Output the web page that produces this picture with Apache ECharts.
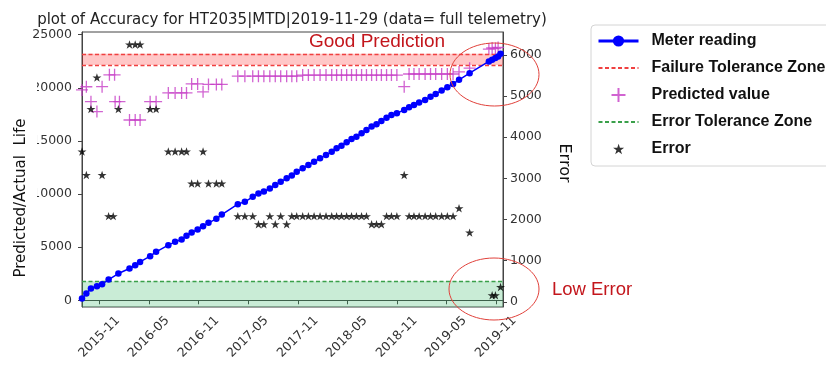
<!DOCTYPE html>
<html>
<head>
<meta charset="utf-8">
<title>plot of Accuracy</title>
<script src="https://cdn.jsdelivr.net/npm/echarts@6.0.0/dist/echarts.min.js"></script>
<style>
  html, body { margin: 0; padding: 0; background: #fff; }
  #chart { width: 826px; height: 367px; }
</style>
</head>
<body>
<div id="chart"></div>
<script>
// meter reading (left axis)
var meterReading = [
  ['2015-08-29', 160], ['2015-09-14', 630], ['2015-10-01', 1100], ['2015-10-23', 1320],
  ['2015-11-11', 1510], ['2015-12-05', 1950], ['2016-01-10', 2520], ['2016-02-20', 2990],
  ['2016-03-12', 3300], ['2016-03-30', 3610], ['2016-05-06', 4150], ['2016-05-28', 4560],
  ['2016-07-12', 5190], ['2016-08-06', 5500], ['2016-08-30', 5720], ['2016-09-17', 6080],
  ['2016-10-06', 6370], ['2016-10-28', 6670], ['2016-11-17', 6980], ['2016-12-07', 7290],
  ['2017-01-05', 7670], ['2017-01-25', 8070], ['2017-03-25', 9050], ['2017-04-20', 9270],
  ['2017-05-19', 9740], ['2017-06-09', 10060], ['2017-06-29', 10250], ['2017-07-21', 10530],
  ['2017-08-10', 10850], ['2017-08-30', 11160], ['2017-09-21', 11480], ['2017-10-10', 11740],
  ['2017-10-28', 12100], ['2017-11-19', 12420], ['2017-12-10', 12730], ['2017-12-31', 13040],
  ['2018-01-22', 13360], ['2018-02-13', 13670], ['2018-03-06', 13990], ['2018-03-24', 14310],
  ['2018-04-11', 14550], ['2018-04-30', 14870], ['2018-05-18', 15180], ['2018-06-05', 15400],
  ['2018-06-24', 15720], ['2018-07-12', 16030], ['2018-07-31', 16350], ['2018-08-18', 16570],
  ['2018-09-05', 16880], ['2018-09-24', 17190], ['2018-10-12', 17450], ['2018-11-01', 17610],
  ['2018-11-28', 17920], ['2018-12-16', 18170], ['2019-01-03', 18390], ['2019-01-22', 18610],
  ['2019-02-13', 18860], ['2019-03-05', 19170], ['2019-03-24', 19430], ['2019-04-15', 19740],
  ['2019-05-06', 20060], ['2019-05-27', 20370], ['2019-06-18', 20750], ['2019-07-27', 21380],
  ['2019-10-06', 22480], ['2019-10-18', 22640], ['2019-10-30', 22800], ['2019-11-09', 22950],
  ['2019-11-18', 23200]
];

// predicted value (left axis)
var predictedValue = [
  ['2015-08-29', 19800], ['2015-09-14', 20100], ['2015-10-01', 18700], ['2015-10-23', 17760],
  ['2015-11-11', 20110], ['2015-12-08', 21220], ['2015-12-27', 21220], ['2015-12-29', 18700],
  ['2016-01-14', 18700], ['2016-02-20', 16970], ['2016-03-12', 16970], ['2016-03-30', 16970],
  ['2016-05-06', 18700], ['2016-05-28', 18700], ['2016-07-12', 19520], ['2016-08-06', 19520],
  ['2016-08-30', 19520], ['2016-09-17', 19520], ['2016-10-06', 20370], ['2016-10-28', 20370],
  ['2016-11-17', 19620], ['2016-12-07', 20320], ['2017-01-05', 20320], ['2017-01-25', 20320],
  ['2017-03-25', 21100], ['2017-04-20', 21100], ['2017-05-19', 21100], ['2017-06-09', 21100],
  ['2017-06-29', 21100], ['2017-07-21', 21100], ['2017-08-10', 21100], ['2017-08-30', 21100],
  ['2017-09-21', 21100], ['2017-10-10', 21100], ['2017-10-28', 21100],
  ['2017-11-19', 21200], ['2017-12-10', 21200], ['2017-12-31', 21200], ['2018-01-22', 21200],
  ['2018-02-13', 21200], ['2018-03-06', 21200], ['2018-03-24', 21200], ['2018-04-11', 21200],
  ['2018-04-30', 21200], ['2018-05-18', 21200], ['2018-06-05', 21200], ['2018-06-24', 21200],
  ['2018-07-12', 21200], ['2018-07-31', 21200], ['2018-08-18', 21200], ['2018-09-05', 21200],
  ['2018-09-24', 21200], ['2018-10-12', 21200], ['2018-11-01', 21200],
  ['2018-11-28', 20110],
  ['2018-12-16', 21300], ['2019-01-03', 21300], ['2019-01-22', 21300], ['2019-02-13', 21300],
  ['2019-03-05', 21300], ['2019-03-24', 21300], ['2019-04-15', 21300], ['2019-05-06', 21300],
  ['2019-05-27', 21300], ['2019-06-18', 21500], ['2019-07-27', 21850],
  ['2019-10-06', 23650], ['2019-10-18', 23750], ['2019-10-30', 23700], ['2019-11-09', 23800]
];

// error (right axis)
var errorValue = [
  ['2015-08-29', 3650], ['2015-09-14', 3080], ['2015-10-01', 4680], ['2015-10-23', 5450],
  ['2015-11-11', 3080], ['2015-12-05', 2080], ['2015-12-22', 2080], ['2016-01-10', 4680],
  ['2016-02-20', 6250], ['2016-03-12', 6250], ['2016-03-30', 6250], ['2016-05-06', 4680],
  ['2016-05-28', 4680], ['2016-07-12', 3650], ['2016-08-06', 3650], ['2016-08-30', 3650],
  ['2016-09-17', 3650], ['2016-10-06', 2875], ['2016-10-28', 2875], ['2016-11-17', 3650],
  ['2016-12-07', 2875], ['2017-01-05', 2875], ['2017-01-25', 2875],
  ['2017-03-25', 2080], ['2017-04-20', 2080], ['2017-05-19', 2080], ['2017-06-09', 1885],
  ['2017-06-29', 1885], ['2017-07-21', 2080], ['2017-08-10', 1885], ['2017-08-30', 2080],
  ['2017-09-21', 1885], ['2017-10-10', 2080], ['2017-10-28', 2080], ['2017-11-19', 2080],
  ['2017-12-10', 2080], ['2017-12-31', 2080], ['2018-01-22', 2080], ['2018-02-13', 2080],
  ['2018-03-06', 2080], ['2018-03-24', 2080], ['2018-04-11', 2080], ['2018-04-30', 2080],
  ['2018-05-18', 2080], ['2018-06-05', 2080], ['2018-06-24', 2080], ['2018-07-12', 2080],
  ['2018-07-31', 1885], ['2018-08-18', 1885], ['2018-09-05', 1885],
  ['2018-09-24', 2080], ['2018-10-12', 2080], ['2018-11-01', 2080], ['2018-11-28', 3080],
  ['2018-12-16', 2080], ['2019-01-03', 2080], ['2019-01-22', 2080], ['2019-02-13', 2080],
  ['2019-03-05', 2080], ['2019-03-24', 2080], ['2019-04-15', 2080], ['2019-05-06', 2080],
  ['2019-05-27', 2080], ['2019-06-18', 2270], ['2019-07-27', 1680],
  ['2019-10-18', 160], ['2019-10-30', 160], ['2019-11-18', 360]
];

var failureZone = [22150, 23200];   // left axis
var errorZone = 500;                // right axis

var xTickLabels = ['2015-11', '2016-05', '2016-11', '2017-05', '2017-11', '2018-05', '2018-11', '2019-05', '2019-11'];
var leftTicks = [0, 5000, 10000, 15000, 20000, 25000];
var rightTicks = [0, 1000, 2000, 3000, 4000, 5000, 6000];

var xRange = ['2015-08-29', '2019-11-27'];
var leftRange = [-632, 25255];
var rightRange = [-127, 6553];

function toTime(s) {
  var p = s.split('-');
  return new Date(+p[0], +p[1] - 1, p[2] ? +p[2] : 1).getTime();
}
function monthLabel(v) {
  var d = new Date(v);
  var m = d.getMonth() + 1;
  return d.getFullYear() + '-' + (m < 10 ? '0' + m : m);
}
function plainNum(v) {
  return String(Math.round(v));
}
function toPoints(list) {
  return list.map(function (d) { return [toTime(d[0]), d[1]]; });
}

var xTicks = xTickLabels.map(toTime);
var FONT = 'DejaVu Sans';
var plusPath = 'path://M5,0L5,10M0,5L10,5';
var starShape = 'M50,0L61.8,35.1L98.9,35.1L68.9,56.8L80.3,91.9L50,70.2L19.7,91.9L31.1,56.8L1.1,35.1L38.2,35.1Z';
var starPath = 'path://' + starShape;
// same star, with extra room around it so the legend icon stays small
var starLegendPath = 'path://M-14,-16M112,108' + starShape;

var chart = echarts.init(document.getElementById('chart'));

chart.setOption({
  animation: false,
  textStyle: { fontFamily: FONT },
  grid: {
    left: 82, right: 323, top: 32, bottom: 60,
    show: true, borderColor: '#444', borderWidth: 1,
    backgroundColor: 'transparent',
    outerBoundsMode: 'none'
  },
  legend: {
    data: [
      { name: 'Meter reading', lineStyle: { width: 3 } },
      { name: 'Failure Tolerance Zone', lineStyle: { width: 2 } },
      'Predicted value',
      { name: 'Error Tolerance Zone', lineStyle: { width: 2 } },
      { name: 'Error', icon: starLegendPath }
    ],
    orient: 'vertical',
    left: 591, top: 25,
    padding: [8, 30, 9, 6],
    itemGap: 11, itemWidth: 40, itemHeight: 14,
    backgroundColor: '#fff',
    borderColor: '#d4d4d4', borderWidth: 1, borderRadius: 4,
    selectedMode: false,
    textStyle: {
      fontFamily: 'Liberation Sans', fontWeight: 'bold', fontSize: 16,
      color: '#111', padding: [0, 0, 0, 8]
    }
  },
  xAxis: {
    type: 'value',
    min: toTime(xRange[0]), max: toTime(xRange[1]),
    axisLine: { show: true, lineStyle: { color: '#444' } },
    axisTick: { show: true, length: 4, customValues: xTicks, lineStyle: { color: '#444' } },
    axisLabel: {
      customValues: xTicks, formatter: monthLabel,
      rotate: 45, align: 'center', verticalAlign: 'middle', margin: 30,
      fontSize: 12.5, color: '#333', fontFamily: FONT
    },
    splitLine: { show: false }
  },
  yAxis: [
    {
      type: 'value', position: 'left',
      min: leftRange[0], max: leftRange[1],
      axisLine: { show: true, lineStyle: { color: '#444' } },
      axisTick: { show: true, length: 4, customValues: leftTicks, lineStyle: { color: '#444' } },
      axisLabel: { customValues: leftTicks, formatter: plainNum, margin: 10, fontSize: 12.5, color: '#333', fontFamily: FONT },
      splitLine: { show: false }
    },
    {
      type: 'value', position: 'right',
      min: rightRange[0], max: rightRange[1],
      axisLine: { show: true, lineStyle: { color: '#444' } },
      axisTick: { show: true, length: 4, customValues: rightTicks, lineStyle: { color: '#444' } },
      axisLabel: { customValues: rightTicks, formatter: plainNum, margin: 7, fontSize: 12.5, color: '#333', fontFamily: FONT },
      splitLine: { show: false }
    }
  ],
  series: [
    {
      name: 'Meter reading',
      type: 'line',
      yAxisIndex: 0,
      data: toPoints(meterReading),
      symbol: 'circle',
      symbolSize: 6.5,
      showAllSymbol: true,
      lineStyle: { color: '#0000ff', width: 1.5 },
      itemStyle: { color: '#0000ff' },
      z: 5
    },
    {
      name: 'Failure Tolerance Zone',
      type: 'line',
      yAxisIndex: 0,
      data: [[null, null]],
      symbol: 'none',
      lineStyle: { color: '#f04040', width: 1.5, type: [4, 2.5] },
      itemStyle: { color: 'rgba(0,0,0,0)' },
      markLine: {
        silent: true,
        symbol: ['none', 'none'],
        label: { show: false },
        lineStyle: { color: '#f04040', width: 1.3, type: [4, 2.5] },
        data: [{ yAxis: failureZone[0] }, { yAxis: failureZone[1] }]
      },
      markArea: {
        silent: true,
        itemStyle: { color: 'rgba(255,0,0,0.22)' },
        data: [[{ yAxis: failureZone[0] }, { yAxis: failureZone[1] }]]
      }
    },
    {
      name: 'Predicted value',
      type: 'scatter',
      yAxisIndex: 0,
      data: toPoints(predictedValue),
      symbol: plusPath,
      symbolSize: 12,
      symbolKeepAspect: true,
      itemStyle: { color: 'rgba(0,0,0,0)', borderColor: '#c63cc6', borderWidth: 1.3 },
      z: 3
    },
    {
      name: 'Error Tolerance Zone',
      type: 'line',
      yAxisIndex: 1,
      data: [[null, null]],
      symbol: 'none',
      lineStyle: { color: '#3aa04a', width: 1.5, type: [4, 2.5] },
      itemStyle: { color: 'rgba(0,0,0,0)' },
      markLine: {
        silent: true,
        symbol: ['none', 'none'],
        label: { show: false },
        lineStyle: { color: '#3aa04a', width: 1.3, type: [4, 2.5] },
        data: [{ yAxis: errorZone }]
      },
      markArea: {
        silent: true,
        itemStyle: { color: 'rgba(40,180,90,0.25)' },
        data: [[{ yAxis: rightRange[0] }, { yAxis: errorZone }]]
      }
    },
    {
      name: 'Error',
      type: 'scatter',
      yAxisIndex: 1,
      data: toPoints(errorValue),
      symbol: starPath,
      symbolSize: 9,
      symbolKeepAspect: true,
      itemStyle: { color: '#000' },
      z: 4
    }
  ],
  graphic: [
    {
      type: 'text', x: 292, y: 20, z: 100,
      style: {
        text: 'plot of Accuracy for HT2035|MTD|2019-11-29 (data= full telemetry)',
        fontFamily: FONT, fontSize: 15, fill: '#222', align: 'center', verticalAlign: 'middle'
      }
    },
    {
      type: 'rect', z: 99,
      shape: { x: 0, y: 72, width: 37, height: 222 },
      style: { fill: '#fff' }
    },
    {
      type: 'text', x: 21, y: 198, rotation: Math.PI / 2, z: 100,
      style: {
        text: 'Predicted/Actual  Life',
        fontFamily: FONT, fontSize: 15, fill: '#111', align: 'center', verticalAlign: 'middle'
      }
    },
    {
      type: 'text', x: 564, y: 163, rotation: -Math.PI / 2, z: 100,
      style: {
        text: 'Error',
        fontFamily: FONT, fontSize: 16, fill: '#111', align: 'center', verticalAlign: 'middle'
      }
    },
    {
      type: 'text', x: 377, y: 41.5, z: 100,
      style: {
        text: 'Good Prediction',
        fontFamily: 'Liberation Sans', fontSize: 19, fill: '#c3161c', align: 'center', verticalAlign: 'middle'
      }
    },
    {
      type: 'text', x: 592, y: 290, z: 100,
      style: {
        text: 'Low Error',
        fontFamily: 'Liberation Sans', fontSize: 18.5, fill: '#c3161c', align: 'center', verticalAlign: 'middle'
      }
    },
    {
      type: 'ellipse', z: 100,
      shape: { cx: 494.5, cy: 74.5, rx: 44.5, ry: 31.5 },
      style: { fill: 'none', stroke: '#e0403a', lineWidth: 1 }
    },
    {
      type: 'ellipse', z: 100,
      shape: { cx: 494, cy: 289, rx: 45, ry: 31 },
      style: { fill: 'none', stroke: '#e0403a', lineWidth: 1 }
    }
  ]
});
</script>
</body>
</html>
